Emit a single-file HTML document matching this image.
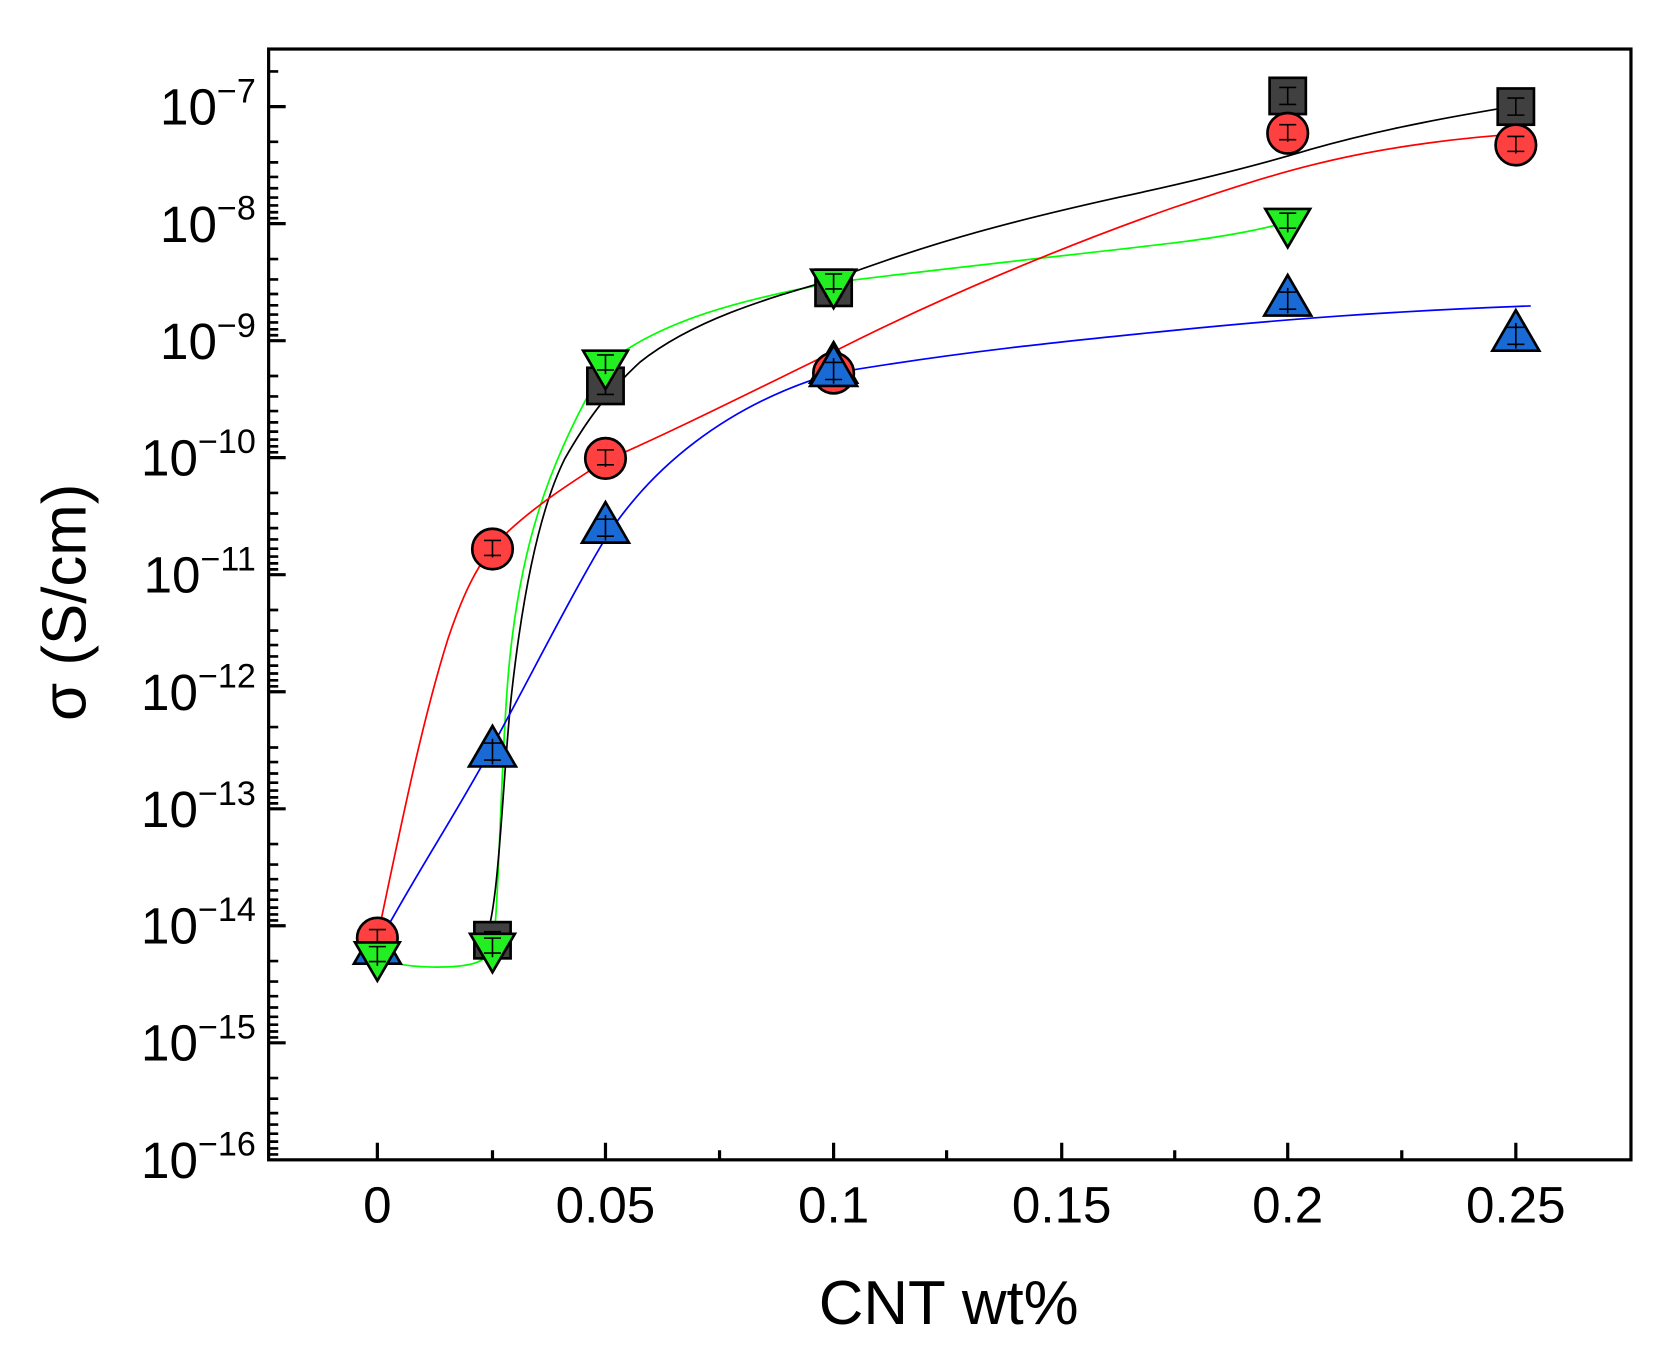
<!DOCTYPE html>
<html><head><meta charset="utf-8"><style>html,body{margin:0;padding:0;background:#fff}svg{display:block}</style></head>
<body>
<svg width="1672" height="1353" viewBox="0 0 1568.5 1269.2" preserveAspectRatio="none" xmlns="http://www.w3.org/2000/svg" font-family="Liberation Sans, Arial, sans-serif">
<rect width="1568.5" height="1269.2" fill="#fff"/>
<g stroke="#000" stroke-width="3" fill="none">
<path d="M252,100h16M252,209.8h16M252,319.6h16M252,429.3h16M252,539.1h16M252,648.9h16M252,758.7h16M252,868.4h16M252,978.2h16"/>
</g>
<g stroke="#000" stroke-width="3">
<path d="M354,1088v-16M568,1088v-16M782,1088v-16M996,1088v-16M1208,1088v-16M1422,1088v-16"/>
<path d="M462,1088v-9M675,1088v-9M888,1088v-9M1102,1088v-9M1315,1088v-9"/>
</g>
<rect x="252" y="46" width="1278" height="1042" fill="none" stroke="#000" stroke-width="3"/>
<g font-size="48" text-anchor="end" fill="#000">
<text x="240" y="117">10<tspan font-size="32" dy="-21">−7</tspan></text>
<text x="240" y="227">10<tspan font-size="32" dy="-21">−8</tspan></text>
<text x="240" y="337">10<tspan font-size="32" dy="-21">−9</tspan></text>
<text x="240" y="446">10<tspan font-size="32" dy="-21">−10</tspan></text>
<text x="240" y="556">10<tspan font-size="32" dy="-21">−11</tspan></text>
<text x="240" y="666">10<tspan font-size="32" dy="-21">−12</tspan></text>
<text x="240" y="776">10<tspan font-size="32" dy="-21">−13</tspan></text>
<text x="240" y="885">10<tspan font-size="32" dy="-21">−14</tspan></text>
<text x="240" y="995">10<tspan font-size="32" dy="-21">−15</tspan></text>
<text x="240" y="1105">10<tspan font-size="32" dy="-21">−16</tspan></text>
</g>
<g font-size="48" text-anchor="middle">
<text x="354" y="1147">0</text><text x="568" y="1147">0.05</text><text x="782" y="1147">0.1</text>
<text x="996" y="1147">0.15</text><text x="1208" y="1147">0.2</text><text x="1422" y="1147">0.25</text>
</g>
<text x="890" y="1242" font-size="58" text-anchor="middle">CNT wt%</text>
<text transform="translate(80,565) rotate(-90)" font-size="58" text-anchor="middle">σ (S/cm)</text>
<g fill="none" stroke-width="1.6">
<path stroke="#00ff00" d="M355,900 C375,906 395,908 420,907 C445,906 455,902 462,890 C468,860 470,700 478,620 C488,520 510,440 568,342 C620,300 700,280 782,265 C900,250 1000,240 1100,228 C1150,222 1190,214 1208,208"/>
<path stroke="#000" d="M455,880 C468,860 472,720 480,650 C490,560 505,480 530,430 C550,395 568,370 600,340 C650,300 720,280 782,262 C880,225 960,205 1050,185 C1120,170 1180,155 1230,140 C1300,120 1370,108 1430,98"/>
<path stroke="#ff0000" d="M355,875 C375,780 395,680 420,600 C435,555 450,525 470,505 C500,475 540,450 568,432 C620,410 700,370 782,330 C880,280 1000,230 1100,195 C1150,178 1190,165 1230,155 C1300,137 1380,128 1436,125"/>
<path stroke="#0000ff" d="M355,885 C390,820 430,760 462,700 C500,630 535,560 568,505 C610,440 680,380 782,350 C900,330 1000,320 1100,310 C1200,300 1300,292 1436,287"/>
</g>
<defs>
<g id="sq"><rect x="-17" y="-17" width="34" height="34" fill="#404040" stroke="#000" stroke-width="2.5"/><path d="M-8,-8h16M0,-8v16M-8,8h16" stroke="#000" stroke-width="1.5"/></g>
<g id="ci"><circle r="19" fill="#ff4040" stroke="#000" stroke-width="2.5"/><path d="M-8,-8h16M0,-8v16M-8,6h16" stroke="#000" stroke-width="1.5"/></g>
<g id="dn"><path d="M-21,-14H21L0,22Z" fill="#22ee22" stroke="#000" stroke-width="2.5"/><path d="M-8,-10h16M0,-10v18M-8,4h16" stroke="#000" stroke-width="1.5"/></g>
<g id="up"><path d="M-22,14H22L0,-24Z" fill="#1a6ad6" stroke="#000" stroke-width="2.5"/><path d="M-8,-8h16M0,-12v24M-8,8h16" stroke="#000" stroke-width="1.5"/></g>
</defs>
<use href="#sq" x="462" y="882"/><use href="#sq" x="568" y="362"/><use href="#sq" x="782" y="270"/><use href="#sq" x="1208" y="90"/><use href="#sq" x="1422" y="100"/>
<use href="#up" x="354" y="890"/><use href="#up" x="462" y="705"/><use href="#up" x="568" y="495"/><use href="#up" x="782" y="345"/><use href="#up" x="1208" y="282"/><use href="#up" x="1422" y="315"/>
<use href="#ci" x="354" y="880"/><use href="#ci" x="462" y="515"/><use href="#ci" x="568" y="430"/><use href="#ci" x="782" y="350"/><use href="#ci" x="1208" y="125"/><use href="#ci" x="1422" y="136"/>
<use href="#up" x="782" y="348"/>
<use href="#dn" x="354" y="898"/><use href="#dn" x="462" y="890"/><use href="#dn" x="568" y="343"/><use href="#dn" x="782" y="267"/><use href="#dn" x="1208" y="210"/>
<g stroke="#000" stroke-width="2.5">
<path d="M252,67h9M252,133h9M252,152.3h9M252,166h9M252,176.6h9M252,185.3h9M252,192.7h9M252,199.1h9M252,204.7h9M252,243h9M252,262.1h9M252,275.8h9M252,286.4h9M252,295.1h9M252,302.5h9M252,308.9h9M252,314.5h9M252,352.7h9M252,371.9h9M252,385.6h9M252,396.2h9M252,404.9h9M252,412.3h9M252,418.7h9M252,424.3h9M252,462.4h9M252,481.7h9M252,495.4h9M252,506h9M252,514.7h9M252,522.1h9M252,528.5h9M252,534.1h9M252,572.2h9M252,591.5h9M252,605.1h9M252,615.8h9M252,624.4h9M252,631.8h9M252,638.2h9M252,643.8h9M252,682h9M252,701.2h9M252,714.9h9M252,725.6h9M252,734.2h9M252,741.6h9M252,748h9M252,753.6h9M252,791.8h9M252,811h9M252,824.7h9M252,835.3h9M252,844h9M252,851.4h9M252,857.8h9M252,863.4h9M252,901.5h9M252,920.8h9M252,934.5h9M252,945.1h9M252,953.8h9M252,961.2h9M252,967.6h9M252,973.2h9M252,1011.3h9M252,1030.6h9M252,1044.2h9M252,1054.9h9M252,1063.5h9M252,1070.9h9M252,1077.3h9M252,1082.9h9"/>
</g>
</svg>
</body></html>
